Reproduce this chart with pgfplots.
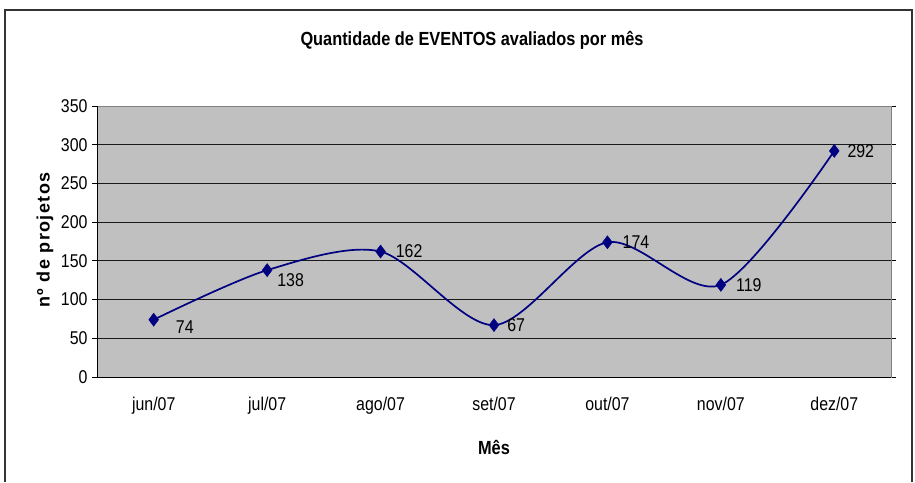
\documentclass[border=0pt]{standalone}
\usepackage{fontspec}
\setmainfont{Liberation Sans}[FakeStretch=0.86]
\newfontfamily\ylabfont{Liberation Sans}[LetterSpace=8]
\usepackage{pgfplots}
\usepackage{pgfplotstable}
\pgfplotsset{compat=1.18}
\definecolor{navyline}{RGB}{0,0,128}
\definecolor{plotbg}{RGB}{192,192,192}
\pgfplotstableread{
x y dx dy
0 74 22 -7
1 138 10 -10
2 162 15 0
3 67 13 0
4 174 15 0
5 119 15 0
6 292 13 0
}\datatable
\begin{document}
\begin{tikzpicture}
\begin{axis}[
  name=ax,
  width=794pt, height=271pt, scale only axis,
  xmin=-0.5, xmax=6.5, ymin=0, ymax=350,
  ytick={0,50,...,350},
  xtick={0,...,6},
  xticklabels={jun/07,jul/07,ago/07,set/07,out/07,nov/07,dez/07},
  minor xtick={-0.5,0.5,...,6.5},
  xtick style={draw=none},
  minor x tick style={black, line width=0.8pt},
  ytick style={black, line width=0.8pt},
  tick align=outside,
  major tick length=5pt, minor tick length=5pt,
  ymajorgrids, grid style={black!90, line width=0.8pt},
  axis background/.style={fill=plotbg},
  axis line style={draw=black!50, line width=1pt},
  /pgf/number format/assume math mode=true,
  tick label style={font=\fontsize{18.5}{20}\selectfont},
  xticklabel style={yshift=-12pt},
  yticklabel style={xshift=-1pt},
  clip=false,
]
\addplot[navyline, line width=1.7pt, smooth, tension=0.5,
  mark=diamond*, mark size=6.5pt, mark options={fill=navyline, draw=navyline, line width=0.5pt},
  nodes near coords,
  visualization depends on={\thisrow{dx} \as \dx},
  visualization depends on={\thisrow{dy} \as \dy},
  nodes near coords style={anchor=west, inner sep=0pt, xshift=\dx pt, yshift=\dy pt, black, font=\fontsize{18.5}{20}\selectfont},
] table[x=x, y=y] {\datatable};
\draw[black, line width=1pt] (rel axis cs:0,1) -- (rel axis cs:0,0) -- (rel axis cs:1,0);
\end{axis}
\coordinate (O) at ([xshift=-97pt,yshift=-105pt]ax.south west);
\path[use as bounding box] (O) rectangle ([xshift=915pt,yshift=482pt]O);
\draw[line width=1.2pt, black!80] ([xshift=5pt]O) -- ([xshift=5pt,yshift=472pt]O) -- ([xshift=912pt,yshift=472pt]O) -- ([xshift=912pt]O);
\node[font=\fontsize{19}{21}\selectfont\bfseries] at ([xshift=472pt,yshift=442pt]O) {Quantidade de EVENTOS avaliados por mês};
\node[font=\fontsize{19}{21}\selectfont\bfseries] at ([xshift=494pt,yshift=35pt]O) {Mês};
\node[font=\ylabfont\fontsize{18}{20}\selectfont\bfseries, rotate=90] at ([xshift=45pt,yshift=242pt]O) {nº de projetos};
\end{tikzpicture}
\end{document}
